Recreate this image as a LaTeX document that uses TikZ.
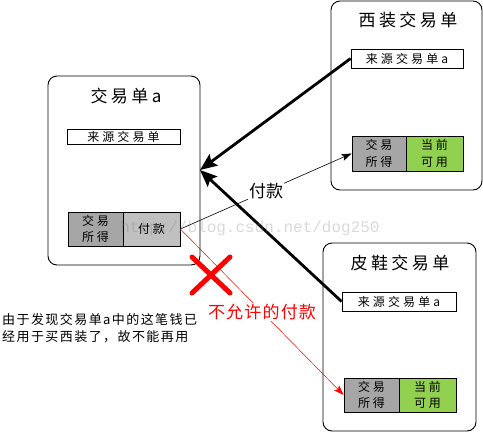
\documentclass[tikz,border=0pt]{standalone}
\usepackage{fontspec}
\setmainfont{Liberation Serif}
\newfontfamily\cjk{Noto Sans CJK SC}
\newfontfamily\wmfont{Liberation Mono}
\usetikzlibrary{arrows.meta}
\definecolor{cellgray}{HTML}{A6A6A6}
\definecolor{paygray}{HTML}{C0C0C0}
\definecolor{cellgreen}{HTML}{92D050}
\begin{document}
\begin{tikzpicture}[x=1pt,y=-1pt,
  card/.style={draw,rounded corners=9pt,line width=0.9pt,inner sep=0pt},
  titletext/.style={font=\cjk\fontsize{17}{20}\selectfont\addfontfeature{LetterSpace=20}},
  srcbox/.style={draw,line width=0.8pt,fill=white,inner sep=0pt,font=\cjk\fontsize{12}{14}\selectfont\addfontfeature{LetterSpace=26}},
  cell/.style={draw,line width=0.8pt,inner sep=0pt,align=center,minimum height=34pt,font=\cjk\fontsize{12}{16.5}\selectfont\addfontfeature{LetterSpace=22}},
  thickarrow/.style={line width=2.8pt,-{Stealth[length=17pt,width=14pt,inset=3pt]}},
  thinarrow/.style={line width=0.6pt,-{Stealth[length=10pt,width=7pt,inset=2pt]}},
  lbl/.style={fill=white,inner sep=1pt,font=\cjk\fontsize{17}{20}\selectfont}
]
\useasboundingbox (0,0) rectangle (483,432);
% cards
\node[card,minimum width=152pt,minimum height=189pt] (A) at (124,170.5) {};
\node[card,minimum width=151pt,minimum height=189pt] (S) at (406.5,95.5) {};
\node[card,minimum width=153pt,minimum height=188pt] (P) at (399.5,337) {};
% titles
\node[titletext] (At) at (126,96) {交易单a};
\node[titletext] (St) at (408,20) {西装交易单};
\node[titletext] (Pt) at (400,263) {皮鞋交易单};
% source boxes
\node[srcbox,minimum width=113pt,minimum height=15pt] (Af) at (123.5,136.5) {来源交易单};
\node[srcbox,minimum width=112pt,minimum height=19pt] (Sf) at (407,58.5) {来源交易单a};
\node[srcbox,minimum width=114pt,minimum height=19pt] (Pf) at (399,301.5) {来源交易单a};
% cells
\node[cell,fill=cellgray,minimum width=55pt] (Ag) at (95.5,229) {交易\\所得};
\node[cell,fill=paygray,minimum width=57pt] (Ap) at (151.5,229) {付款};
\node[cell,fill=cellgray,minimum width=54pt,minimum height=35pt] (Sg) at (379,153.5) {交易\\所得};
\node[cell,fill=cellgreen,minimum width=57pt,minimum height=35pt] (Sc) at (434.5,153.5) {当前\\可用};
\node[cell,fill=cellgray,minimum width=55pt] (Pg) at (371.5,395) {交易\\所得};
\node[cell,fill=cellgreen,minimum width=57pt] (Pc) at (427.5,395) {当前\\可用};
% thick arrows
\coordinate (Ain) at (200,170);
\draw[thickarrow] (Sf.west) -- (Ain);
\draw[thickarrow] (Pf.west) -- (Ain);
% red X
\draw[red,line width=5pt,line cap=round] (192,257) -- (230,293);
\draw[red,line width=5pt,line cap=round] (230,257) -- (192,293);
% thin arrows
\draw[thinarrow] (Ap.east) -- node[lbl,pos=0.5] (payl) {付款} (Sg.west);
\draw[thinarrow,red,line width=0.5pt] (Ap.east) -- node[lbl,pos=0.5,text=red,font=\cjk\fontsize{17}{20}\selectfont\addfontfeature{LetterSpace=7}] (nopay) {不允许的付款} (Pg.west);
% note
\node[anchor=west,align=left,inner sep=0pt,font=\cjk\fontsize{13}{17.5}\selectfont\addfontfeature{LetterSpace=11}] (note) at (2,328) {由于发现交易单a中的这笔钱已\\经用于买西装了，故不能再用};
% watermark
\node[opacity=0.3,text=gray,font=\wmfont\fontsize{16}{18}\selectfont,inner sep=0pt] (wm) at (250,228) {http://blog.csdn.net/dog250};
\end{tikzpicture}
\end{document}
